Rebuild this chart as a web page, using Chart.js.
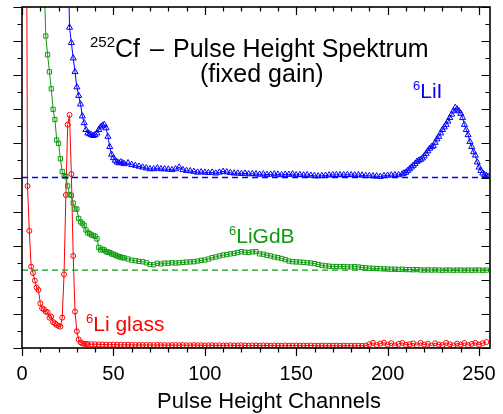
<!DOCTYPE html>
<html>
<head>
<meta charset="utf-8">
<script src="https://cdn.jsdelivr.net/npm/chart.js@4.4.1/dist/chart.umd.min.js"></script>
<style>
  html, body { margin: 0; background: #fff; }
  #wrap { width: 503px; height: 414px; }
</style>
</head>
<body>
<div id="wrap"><canvas id="spektrum" width="503" height="414"></canvas></div>
<script>
// channel grid helper (sampling positions only)
function span(a, b, step) {
    var out = [];
    for (var c = a; c <= b; c += step) out.push(c);
    return out;
}

var xTicks = [0, 50, 100, 150, 200, 250];

// 6LiI (blue triangles)
var liiCh = span(25, 55, 1).concat(span(56, 208, 2), span(209, 255, 1));
var liiCounts = [
    24, 18.8, 17.9, 17.0, 16.2, 15.3, 14.8, 14.3, 13.6, 13.2, 12.8, 12.6, 12.55, 12.5, 12.45, 12.5,
    12.6, 12.8, 12.95, 13.05, 13.1, 12.9, 12.4, 11.8, 11.35, 11.15, 11.0, 10.9, 10.85, 10.9, 10.85,
    10.8, 10.85, 10.75, 10.7, 10.65, 10.6, 10.55, 10.5, 10.5, 10.55,
    10.5, 10.5, 10.48, 10.45, 10.5, 10.6, 10.45, 10.4, 10.38, 10.35,
    10.3, 10.32, 10.3, 10.28, 10.3, 10.25, 10.3, 10.35, 10.32, 10.28,
    10.25, 10.25, 10.22, 10.24, 10.2, 10.22, 10.2, 10.18, 10.2, 10.17,
    10.18, 10.2, 10.18, 10.15, 10.18, 10.17, 10.2, 10.15, 10.16, 10.14,
    10.15, 10.12, 10.1, 10.08, 10.1, 10.12, 10.14, 10.15, 10.16, 10.15,
    10.15, 10.16, 10.15, 10.14, 10.15, 10.13, 10.1, 10.1, 10.08, 10.08,
    10.05, 10.1, 10.12, 10.14, 10.15, 10.15, 10.2,
    10.25, 10.3, 10.4, 10.5, 10.6, 10.7, 10.8, 10.93, 11.0, 11.05, 11.13, 11.25, 11.4, 11.55, 11.7, 11.8,
    11.85, 12.05, 12.25, 12.4, 12.6, 12.8, 12.95, 13.1, 13.3, 13.5, 13.7, 13.9, 14.1, 14.0, 13.9, 13.75,
    13.5, 13.1, 12.8, 12.5, 12.1, 11.8, 11.5, 11.3, 10.9, 10.6, 10.4, 10.25, 10.15, 10.1, 10.05
];

// 6LiGdB (green squares)
var ligdbCh = span(12, 55, 1).concat(span(56, 254, 2));
var ligdbCounts = [
    22, 18.3, 17.2, 16.2, 15.2, 14.0, 13.4, 12.2, 12.0, 11.1,
    10.35, 10.1, 10.05, 9.5, 9.0, 8.95, 8.5, 8.15, 8.15, 7.6,
    7.4, 7.3, 7.2, 6.92, 6.76, 6.7, 6.63, 6.6, 6.55, 6.4,
    5.9, 5.75, 5.8, 5.75, 5.65, 5.62, 5.6, 5.52, 5.5, 5.45,
    5.4, 5.36, 5.33, 5.3,
    5.28, 5.22, 5.15, 5.12, 5.08, 5.06, 5.0, 4.9, 4.88, 4.97,
    4.93, 4.98, 4.97, 5.0, 4.98, 5.0, 5.02, 5.04, 5.05, 5.06,
    5.1, 5.14, 5.16, 5.22, 5.3, 5.34, 5.4, 5.45, 5.48, 5.52,
    5.55, 5.6, 5.65, 5.62, 5.6, 5.64, 5.65, 5.52, 5.5, 5.44,
    5.4, 5.34, 5.3, 5.25, 5.18, 5.1, 5.06, 5.05, 5.04, 5.02,
    5.0, 4.98, 4.95, 4.9, 4.85, 4.82, 4.8, 4.78, 4.78, 4.77,
    4.78, 4.76, 4.76, 4.77, 4.75, 4.72, 4.7, 4.68, 4.67, 4.66,
    4.65, 4.64, 4.63, 4.62, 4.62, 4.61, 4.62, 4.6, 4.6, 4.59,
    4.6, 4.58, 4.57, 4.58, 4.57, 4.58, 4.57, 4.56, 4.57, 4.57,
    4.56, 4.57, 4.57, 4.56, 4.57, 4.56, 4.57, 4.57, 4.56, 4.57
];

// 6Li glass (red circles)
var glassCh = span(2, 35, 1).concat(span(36, 254, 2));
var glassCounts = [
    40, 9.5, 6.87, 4.77, 4.4, 3.95, 3.54, 3.4, 2.62, 2.33,
    2.27, 2.13, 2.1, 1.78, 1.84, 1.52, 1.45, 1.35, 1.29, 1.25,
    1.78, 4.32, 8.97, 13.1, 13.67, 10.2, 5.4, 2.13, 0.98, 0.5,
    0.33, 0.27, 0.25, 0.24,
    0.23, 0.22, 0.22, 0.21, 0.2, 0.2, 0.19, 0.2, 0.19, 0.19,
    0.18, 0.19, 0.18, 0.18, 0.17, 0.18, 0.18, 0.17, 0.17, 0.18,
    0.17, 0.17, 0.16, 0.17, 0.17, 0.16, 0.17, 0.16, 0.16, 0.17,
    0.16, 0.16, 0.15, 0.16, 0.16, 0.15, 0.16, 0.15, 0.15, 0.16,
    0.15, 0.15, 0.16, 0.15, 0.14, 0.15, 0.15, 0.14, 0.15, 0.15,
    0.14, 0.15, 0.14, 0.14, 0.15, 0.14, 0.14, 0.15, 0.14, 0.14,
    0.14, 0.15, 0.14, 0.13, 0.14, 0.14, 0.13, 0.14, 0.14, 0.13,
    0.14, 0.13, 0.14, 0.13, 0.14, 0.13, 0.14, 0.22, 0.3, 0.18,
    0.26, 0.31, 0.2, 0.28, 0.15, 0.24, 0.3, 0.18, 0.22, 0.27,
    0.16, 0.3, 0.2, 0.25, 0.14, 0.28, 0.2, 0.17, 0.3, 0.22,
    0.15, 0.26, 0.2, 0.29, 0.16, 0.24, 0.3, 0.2, 0.28, 0.35
];

// baselines (dashed)
var liiBase = 10;
var ligdbBase = 4.57;

var BLUE = '#0000ff';
var GREEN = '#109a10';
var RED = '#ff0000';
var FONT = '"Liberation Sans", Arial, sans-serif';

function pts(xs, ys) {
    return xs.map(function (x, i) { return { x: x, y: ys[i] }; });
}

function series(data, color, style, r) {
    return {
        data: data,
        showLine: true,
        borderColor: color,
        borderWidth: 1,
        pointStyle: style,
        pointRadius: r,
        pointBorderColor: color,
        pointBorderWidth: 1,
        pointBackgroundColor: 'rgba(0,0,0,0)',
        tension: 0
    };
}

function baseline(y, color) {
    return {
        data: [{ x: 0, y: y }, { x: 256, y: y }],
        showLine: true,
        borderColor: color,
        borderWidth: 1.3,
        borderDash: [6, 4],
        pointRadius: 0
    };
}

// frame, tick marks, axis labels
var framePlugin = {
    id: 'frame',
    afterDatasetsDraw: function (chart) {
        var ctx = chart.ctx, a = chart.chartArea;
        var x = chart.scales.x, y = chart.scales.y;
        ctx.save();
        ctx.strokeStyle = '#000';
        ctx.lineWidth = 1.2;
        ctx.beginPath();
        for (var v = 0; v <= 250; v += 10) {
            var px = Math.round(x.getPixelForValue(v)) + 0.5;
            var len = v % 50 === 0 ? 8 : 4.5;
            ctx.moveTo(px, a.bottom); ctx.lineTo(px, a.bottom + len);
            ctx.moveTo(px, a.top); ctx.lineTo(px, a.top + len);
        }
        for (var w = 0; w <= 20; w++) {
            var py = Math.round(y.getPixelForValue(w)) + 0.5;
            var l2 = w % 2 === 0 ? 8.5 : 4.5;
            ctx.moveTo(a.left - l2, py); ctx.lineTo(a.left, py);
            ctx.moveTo(a.right - l2, py); ctx.lineTo(a.right, py);
        }
        ctx.stroke();
        ctx.lineWidth = 1.6;
        ctx.strokeRect(a.left, a.top, a.right - a.left, a.bottom - a.top);

        ctx.fillStyle = '#000';
        ctx.textAlign = 'center';
        ctx.textBaseline = 'alphabetic';
        ctx.font = '20px ' + FONT;
        xTicks.forEach(function (t) {
            ctx.fillText(String(t), x.getPixelForValue(t), a.bottom + 32);
        });
        ctx.font = '22px ' + FONT;
        ctx.fillText('Pulse Height Channels', (a.left + a.right) / 2 + 13, a.bottom + 60);
        ctx.restore();
    }
};

function supText(ctx, sup, main, x, y, color, size, supSize) {
    ctx.fillStyle = color;
    ctx.textBaseline = 'alphabetic';
    ctx.textAlign = 'left';
    ctx.font = supSize + 'px ' + FONT;
    ctx.fillText(sup, x, y - size * 0.4);
    var w = ctx.measureText(sup).width;
    ctx.font = size + 'px ' + FONT;
    ctx.fillText(main, x + w, y);
}

var textPlugin = {
    id: 'texts',
    afterDraw: function (chart) {
        var ctx = chart.ctx;
        ctx.save();
        supText(ctx, '252', 'Cf', 90, 57, '#000', 25, 15);
        ctx.fillText('\u2013', 150, 57);
        ctx.fillText('Pulse Height Spektrum', 173, 57);
        ctx.fillText('(fixed gain)', 200, 82);
        supText(ctx, '6', 'LiI', 413, 98, BLUE, 21, 13);
        supText(ctx, '6', 'LiGdB', 229, 243, GREEN, 21, 13);
        supText(ctx, '6', 'Li glass', 86, 331, RED, 21, 13);
        ctx.restore();
    }
};

new Chart(document.getElementById('spektrum').getContext('2d'), {
    type: 'scatter',
    data: {
        datasets: [
            baseline(liiBase, BLUE),
            baseline(ligdbBase, GREEN),
            series(pts(liiCh, liiCounts), BLUE, 'triangle', 3.5),
            series(pts(ligdbCh, ligdbCounts), GREEN, 'rect', 3),
            series(pts(glassCh, glassCounts), RED, 'circle', 2.5)
        ]
    },
    options: {
        responsive: false,
        animation: false,
        layout: { padding: { left: 22, right: 13, top: 7, bottom: 66 } },
        plugins: { legend: { display: false }, tooltip: { enabled: false } },
        scales: {
            x: { type: 'linear', min: 0, max: 256, display: false },
            y: { min: 0, max: 20, display: false }
        }
    },
    plugins: [framePlugin, textPlugin]
});
</script>
</body>
</html>
